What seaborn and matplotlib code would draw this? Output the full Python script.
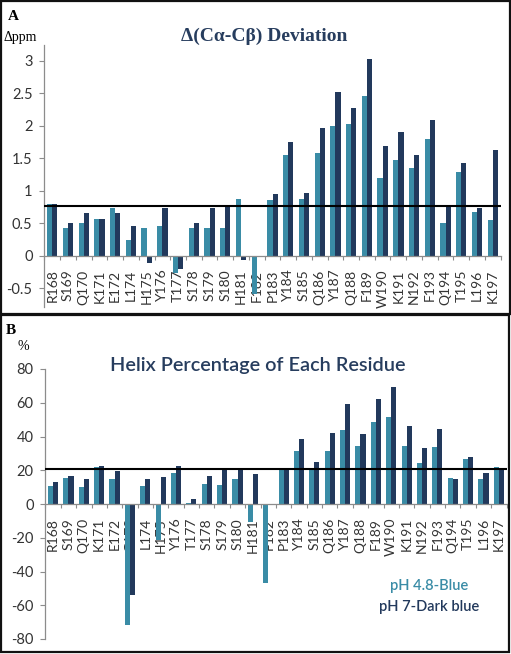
import matplotlib
matplotlib.use("Agg")
import matplotlib.pyplot as plt
from matplotlib.patches import Rectangle
from matplotlib.ticker import FixedLocator
import numpy as np
import pandas as pd
import seaborn as sns

# ---------------- data ----------------
residues_a = ["R168", "S169", "Q170", "K171", "E172", "L174", "H175", "Y176", "T177",
              "S178", "S179", "S180", "H181", "F182", "P183", "Y184", "S185", "Q186",
              "Y187", "Q188", "F189", "W190", "K191", "N192", "F193", "Q194", "T195",
              "L196", "K197"]
dev_ph48 = [0.80, 0.43, 0.50, 0.56, 0.73, 0.24, 0.42, 0.46, -0.27,
            0.43, 0.43, 0.43, 0.87, -0.59, 0.85, 1.55, 0.87, 1.58,
            2.00, 2.03, 2.45, 1.19, 1.47, 1.35, 1.79, 0.51, 1.29,
            0.67, 0.55]
dev_ph7 = [0.79, 0.50, 0.66, 0.57, 0.65, 0.46, -0.12, 0.74, -0.20,
           0.51, 0.74, 0.75, -0.06, 0.0, 0.95, 1.75, 0.97, 1.96,
           2.51, 2.27, 3.02, 1.68, 1.90, 1.55, 2.08, 0.76, 1.42,
           0.73, 1.63]
dev_ref = 0.77
yticks_a = [-0.5, 0, 0.5, 1, 1.5, 2, 2.5, 3]
yticklabels_a = ["-0.5", "0", "0.5", "1", "1.5", "2", "2.5", "3"]

residues_b = ["R168", "S169", "Q170", "K171", "E172", "G173", "L174", "H175", "Y176",
              "T177", "S178", "S179", "S180", "H181", "F182", "P183", "Y184", "S185",
              "Q186", "Y187", "Q188", "F189", "W190", "K191", "N192", "F193", "Q194",
              "T195", "L196", "K197"]
helix_ph48 = [10.7, 15.2, 10.1, 22.2, 15.0, -71.5, 10.7, -21.4, 18.6,
              0.8, 12.1, 11.3, 14.7, -10.5, -47.1, 21.0, 31.5, 20.6,
              31.5, 44.0, 34.3, 48.7, 51.5, 34.3, 24.2, 33.9, 15.4,
              26.9, 14.7, 21.8]
helix_ph7 = [12.9, 16.8, 14.7, 22.6, 19.6, -53.7, 14.7, 16.0, 22.4,
             3.2, 16.8, 20.6, 20.6, 17.8, 0.0, 21.0, 38.6, 25.1,
             42.0, 59.4, 41.2, 62.0, 69.2, 46.5, 33.3, 44.4, 15.0,
             27.7, 18.6, 21.0]
helix_ref = 20.5
yticks_b = [-80, -60, -40, -20, 0, 20, 40, 60, 80]
yticklabels_b = ["-80", "-60", "-40", "-20", "0", "20", "40", "60", "80"]

series_names = ["pH 4.8", "pH 7"]

# ---------------- style ----------------
sns.set_theme(style="white")
plt.rcParams["font.family"] = ["Lato", "DejaVu Sans"]
plt.rcParams["axes.unicode_minus"] = False

LIGHT = "#3a8ca6"
DARK = "#22395c"
TITLE_C = "#273d5e"
AXIS_C = "#8c8c8c"
TICK_TXT = "#333333"

W, H = 511, 654
fig = plt.figure(figsize=(W / 100, H / 100), dpi=100)


def fx(px):
    return px / W


def fy(py):
    return 1 - py / H


def make_df(res, a, b):
    return pd.DataFrame({
        "residue": list(res) * 2,
        "pH": [series_names[0]] * len(res) + [series_names[1]] * len(res),
        "value": list(a) + list(b),
    })


def draw_panel(ax, res, a, b, ref, ylim, yticks, yticklabels):
    df = make_df(res, a, b)
    sns.barplot(data=df, x="residue", y="value", hue="pH", order=res,
                hue_order=series_names, palette=[LIGHT, DARK], width=0.66,
                saturation=1, legend=False, ax=ax, errorbar=None,
                linewidth=0, edgecolor="none")
    n = len(res)
    ax.set_xlim(-0.5, n - 0.5)
    ax.set_ylim(*ylim)
    ax.axhline(ref, color="black", lw=1.5, zorder=5)
    for s in ["top", "right"]:
        ax.spines[s].set_visible(False)
    ax.spines["left"].set_color(AXIS_C)
    ax.spines["left"].set_linewidth(0.9)
    ax.spines["bottom"].set_position(("data", 0))
    ax.spines["bottom"].set_color(AXIS_C)
    ax.spines["bottom"].set_linewidth(0.9)
    ax.set_yticks(yticks)
    ax.set_yticklabels(yticklabels, fontsize=10.5, color=TICK_TXT)
    ax.tick_params(axis="y", which="major", direction="out", length=3.5,
                   width=0.8, color=AXIS_C, pad=5, left=True)
    ax.set_xticks(range(n))
    ax.set_xticklabels(res, rotation=90, fontsize=10, color=TICK_TXT)
    ax.tick_params(axis="x", which="major", length=0, pad=10, bottom=True)
    ax.xaxis.set_minor_locator(FixedLocator(np.arange(-0.5, n, 1.0)))
    ax.tick_params(axis="x", which="minor", direction="out", length=3,
                   width=0.8, color=AXIS_C, bottom=True)
    ax.set_xlabel("")
    ax.set_ylabel("")
    ax.grid(False)
    ax.set_facecolor("none")


# Panel A
axA = fig.add_axes([fx(44.4), fy(306.7), fx(500.6 - 44.4), (306.7 - 45) / H])
draw_panel(axA, residues_a, dev_ph48, dev_ph7, dev_ref, (-0.785, 3.24),
           yticks_a, yticklabels_a)

# Panel B
axB = fig.add_axes([fx(45.4), fy(639), fx(506.5 - 45.4), (639 - 369) / H])
draw_panel(axB, residues_b, helix_ph48, helix_ph7, helix_ref, (-80, 80),
           yticks_b, yticklabels_b)

# ---------------- texts ----------------
serif = ["Liberation Serif", "DejaVu Serif"]
fig.text(fx(8), fy(17), "A", family=serif, fontweight="bold", fontsize=11,
         ha="left", va="center", color="black")
fig.text(fx(3), fy(37), "\u0394ppm", family=serif, fontsize=10,
         ha="left", va="center", color="black")
fig.text(fx(264), fy(36), "\u0394(C\u03b1-C\u03b2) Deviation", family=serif,
         fontweight="bold", fontsize=14, ha="center", va="center", color=TITLE_C)

fig.text(fx(6), fy(330), "B", family=serif, fontweight="bold", fontsize=11,
         ha="left", va="center", color="black")
fig.text(fx(17), fy(347), "%", family=serif, fontsize=10,
         ha="left", va="center", color="black")
fig.text(fx(257.5), fy(366), "Helix Percentage of Each Residue",
         fontsize=14.3, fontweight="semibold", ha="center", va="center",
         color=TITLE_C)

fig.text(fx(429), fy(586), "pH 4.8-Blue", fontsize=10.5, fontweight="semibold",
         ha="center", va="center", color=LIGHT)
fig.text(fx(429), fy(607), "pH 7-Dark blue", fontsize=10.5, fontweight="semibold",
         ha="center", va="center", color=DARK)

# ---------------- panel borders ----------------
fig.add_artist(Rectangle((fx(1), fy(314)), fx(508.5), (314 - 1) / H,
                         transform=fig.transFigure, fill=False,
                         edgecolor="#111111", lw=1.6))
fig.add_artist(Rectangle((fx(1), fy(652)), fx(508), (652 - 315) / H,
                         transform=fig.transFigure, fill=False,
                         edgecolor="#111111", lw=1.6))

fig.savefig("out.png", dpi=100)
